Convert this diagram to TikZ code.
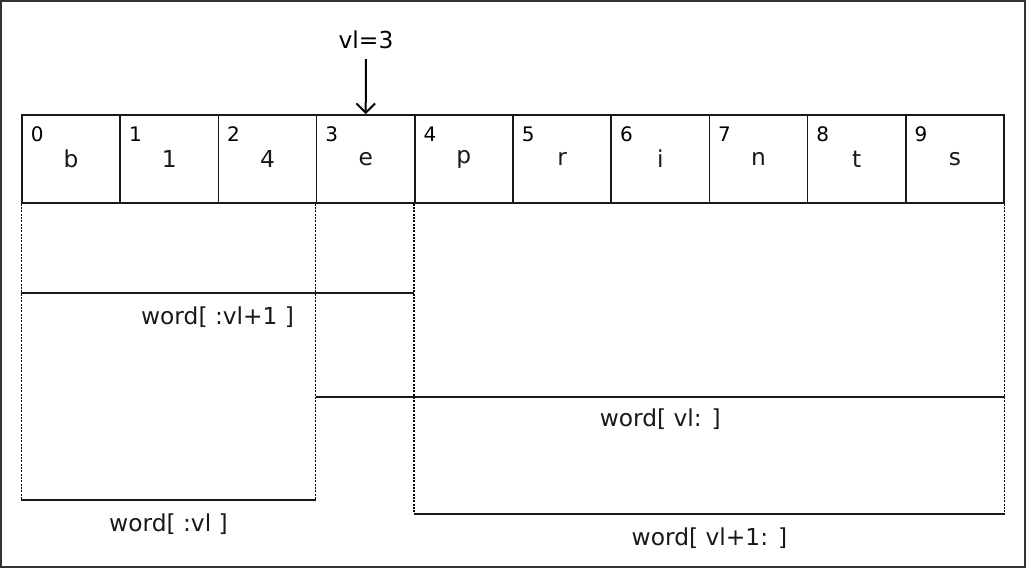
\documentclass[tikz,border=0pt]{standalone}
\usepackage{fontspec}
\setmainfont{DejaVu Sans}
\usetikzlibrary{arrows.meta,calc}

\begin{document}
\begin{tikzpicture}[x=0.75pt,y=-0.75pt,font=\fontsize{17.5}{20}\selectfont]
  \useasboundingbox (0,0) rectangle (1026,568);
  \draw[line width=1.4pt,black!80] (1,1) rectangle (1025,567);

  \foreach \i/\c in {0/b,1/1,2/4,3/e,4/p,5/r,6/i,7/n,8/t,9/s}{
    \node[draw,line width=1.2pt,black!90,minimum width=73.65pt,minimum height=66pt,inner sep=0pt] (c\i) at (71.1+98.2*\i,159) {\raisebox{-2pt}{\c}};
    \node[font=\fontsize{15}{17}\selectfont,inner sep=0pt] (n\i) at ($(c\i.north west)+(16,20)$) {\i};
  }

  \node (vl) at (366,40) {vl=3};
  \draw[line width=1.5pt,shorten <=4pt,-{Straight Barb[length=7pt,width=14pt]}] (vl) -- (c3.north);

  \draw[dash pattern=on 1.5pt off 1pt,line width=1pt] (c0.south west) -- ++(0,296) coordinate (d0);
  \draw[dash pattern=on 1.5pt off 1pt,line width=1pt] (c3.south west) -- ++(0,296) coordinate (d3);
  \draw[dash pattern=on 1.5pt off 1pt,line width=1pt] (c4.south west) -- ++(0,310) coordinate (d4);
  \draw[dash pattern=on 1.5pt off 1pt,line width=1pt] (c9.south east) -- ++(0,310) coordinate (d9);

  \draw[line width=1.2pt,black!90] (c0.south west |- 0,293) -- node[midway,yshift=-18pt] (s1) {word[ :vl+1 ]} (c4.south west |- 0,293);
  \draw[line width=1.2pt,black!90] (c3.south west |- 0,397) -- node[midway,yshift=-17pt] (s2) {word[ vl: ]} (c9.south east |- 0,397);
  \draw[line width=1.2pt,black!90] (d0) -- node[midway,yshift=-18pt] (s3) {word[ :vl ]} (d3);
  \draw[line width=1.2pt,black!90] (d4) -- node[midway,yshift=-18pt] (s4) {word[ vl+1: ]} (d9);
\end{tikzpicture}
\end{document}
